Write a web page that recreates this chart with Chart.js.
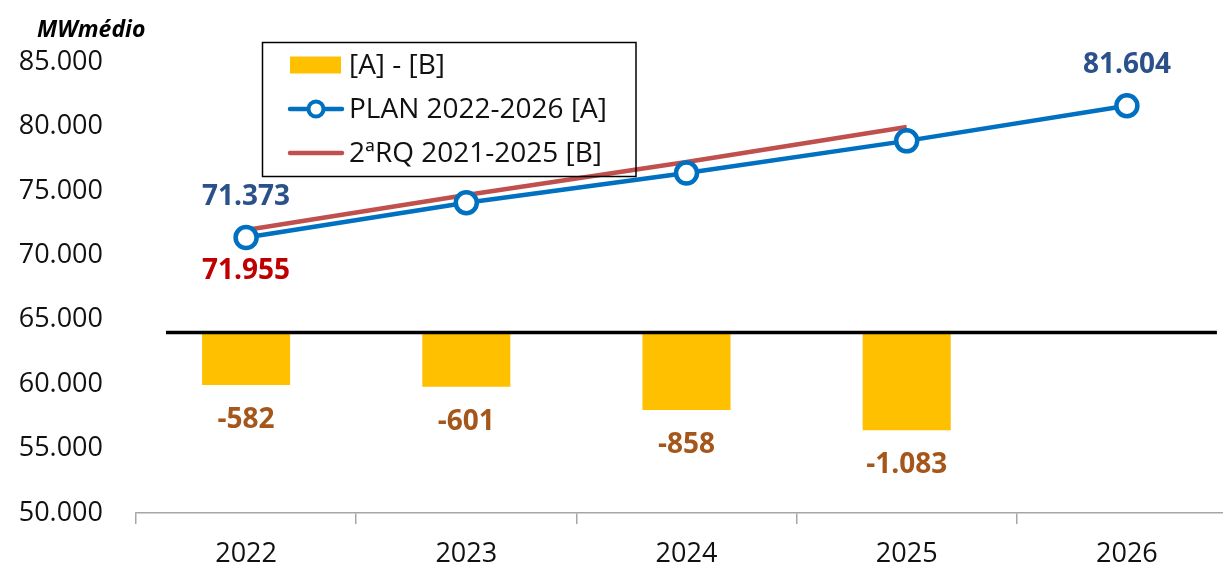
<!DOCTYPE html>
<html><head><meta charset="utf-8">
<script src="https://cdn.jsdelivr.net/npm/chart.js@4/dist/chart.umd.min.js"></script>
<style>html,body{margin:0;padding:0;background:#fff;overflow:hidden}#wrap{position:relative;width:1240px;height:566px}</style>
</head><body><div id="wrap"><canvas id="c" width="1240" height="566"></canvas></div>
<script>
const categories = ['2022', '2023', '2024', '2025', '2026'];
const planA = [71373, 74080, 76380, 78880, 81604];
const rqB = [71955, 74681, 77238, 79963, null];
const diffAB = [-582, -601, -858, -1083, null];
const yTicks = [50000, 55000, 60000, 65000, 70000, 75000, 80000, 85000];
const seriesNames = ['[A] - [B]', 'PLAN 2022-2026 [A]', '2ªRQ 2021-2025 [B]'];
const planLabelIdx = [0, 4];
const rqLabelIdx = [0];
const unitLabel = 'MWmédio';

const FONT = "'Open Sans', sans-serif";
const fmt = v => (v < 0 ? '-' : '') + Math.round(Math.abs(v)).toString().replace(/\B(?=(\d{3})+(?!\d))/g, '.');

const BLUE = '#0070C0', RED = '#C0504D', GOLD = '#FFC000';

const baselinePlugin = {
  id: 'baseline',
  afterDatasetsDraw(chart) {
    const ctx = chart.ctx, x = chart.scales.x, y2 = chart.scales.y2;
    const yp = y2.getPixelForValue(0);
    ctx.save();
    ctx.strokeStyle = '#000'; ctx.lineWidth = 3.5;
    ctx.beginPath(); ctx.moveTo(x.left + 30, yp); ctx.lineTo(x.getPixelForValue(4) + 90, yp); ctx.stroke();
    ctx.restore();
  }
};

const labelsPlugin = {
  id: 'valueLabels',
  afterDatasetsDraw(chart) {
    const ctx = chart.ctx;
    ctx.save();
    ctx.font = 'bold 28px ' + FONT; ctx.textAlign = 'center'; ctx.textBaseline = 'middle';
    const mBar = chart.getDatasetMeta(0), mA = chart.getDatasetMeta(1), mB = chart.getDatasetMeta(2);
    ctx.fillStyle = '#A5561B';
    diffAB.forEach((v, i) => { if (v == null) return; const el = mBar.data[i]; ctx.fillText(fmt(v), el.x, el.y + 35); });
    ctx.fillStyle = '#2A5189';
    planLabelIdx.forEach(i => { const el = mA.data[i]; ctx.fillText(fmt(planA[i]), el.x, el.y - 40.5); });
    ctx.fillStyle = '#C00000';
    rqLabelIdx.forEach(i => { const el = mB.data[i]; ctx.fillText(fmt(rqB[i]), el.x, el.y + 41); });
    ctx.fillStyle = '#000'; ctx.textAlign = 'left'; ctx.textBaseline = 'alphabetic';
    ctx.font = 'italic bold 23px ' + FONT;
    ctx.fillText(unitLabel, 37, 37);
    ctx.restore();
  }
};

const legendPlugin = {
  id: 'boxLegend',
  afterDraw(chart) {
    const ctx = chart.ctx;
    const ds = chart.data.datasets;
    ctx.save();
    ctx.strokeStyle = '#000'; ctx.lineWidth = 1.5;
    ctx.strokeRect(262.5, 42.5, 373.5, 134);
    const rows = [65, 109, 153];
    ctx.font = '28px ' + FONT; ctx.textBaseline = 'middle'; ctx.textAlign = 'left';
    ds.forEach((d, k) => {
      const yy = rows[k];
      if (d.type === 'bar') {
        ctx.fillStyle = d.backgroundColor; ctx.fillRect(290, yy - 8.5, 51, 17);
      } else {
        ctx.strokeStyle = d.borderColor; ctx.lineWidth = d.borderWidth; ctx.lineCap = 'round';
        ctx.beginPath(); ctx.moveTo(290, yy); ctx.lineTo(342, yy); ctx.stroke();
        if (d.pointRadius > 0) {
          ctx.fillStyle = '#fff'; ctx.lineWidth = 4;
          ctx.beginPath(); ctx.arc(316, yy, 7.5, 0, Math.PI * 2); ctx.fill(); ctx.stroke();
        }
      }
      ctx.fillStyle = '#111';
      ctx.fillText(d.label, 349, yy + 1);
    });
    ctx.restore();
  }
};

new Chart(document.getElementById('c'), {
  data: {
    labels: categories,
    datasets: [
      { type: 'bar', label: seriesNames[0], data: diffAB, yAxisID: 'y2', backgroundColor: GOLD,
        barPercentage: 0.4, categoryPercentage: 1, order: 3 },
      { type: 'line', label: seriesNames[1], data: planA, yAxisID: 'y', borderColor: BLUE, borderWidth: 4.5,
        pointRadius: 10.5, pointBorderWidth: 4.5, pointBackgroundColor: '#fff', pointBorderColor: BLUE, tension: 0, order: 1 },
      { type: 'line', label: seriesNames[2], data: rqB, yAxisID: 'y', borderColor: RED, borderWidth: 4.5,
        pointRadius: 0, tension: 0, order: 2 }
    ]
  },
  options: {
    responsive: false, animation: false, devicePixelRatio: 1,
    layout: { autoPadding: false, padding: { top: 62, right: 3, left: 0, bottom: 0 } },
    font: { family: FONT },
    plugins: { legend: { display: false }, tooltip: { enabled: false } },
    scales: {
      x: {
        type: 'category', offset: true,
        grid: { offset: true, drawOnChartArea: false, drawTicks: true, tickLength: 11, color: '#A6A6A6', lineWidth: 1.5 },
        border: { display: true, color: '#A6A6A6', width: 1.5 },
        ticks: { padding: 14, color: '#111', font: { family: FONT, size: 27 } },
        afterFit(s) { s.height = 53; s.paddingLeft = 0; s.paddingRight = 0; }
      },
      y: {
        position: 'left', min: 50000, max: 85000,
        grid: { display: false, drawTicks: false },
        border: { display: false },
        afterBuildTicks(s) { s.ticks = yTicks.map(v => ({ value: v })); },
        ticks: { padding: 33, color: '#111', font: { family: FONT, size: 27 }, callback: v => fmt(v) },
        afterFit(s) { s.width = 136; s.paddingLeft = 0; s.paddingRight = 0; }
      },
      y2: { position: 'right', display: false, min: -2000, max: 3000 }
    }
  },
  plugins: [baselinePlugin, labelsPlugin, legendPlugin]
});
</script></body></html>
